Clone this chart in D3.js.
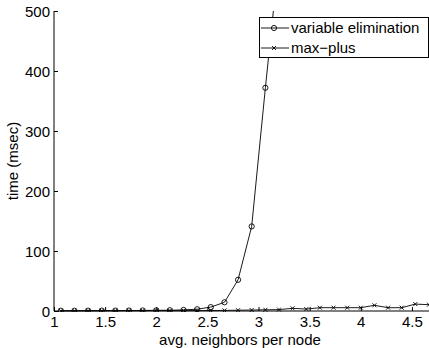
<!DOCTYPE html>
<html>
<head>
<meta charset="utf-8">
<script src="https://cdn.jsdelivr.net/npm/d3@7"></script>
<style>
  body { margin: 0; background: #fff; }
  text { font-family: "Liberation Sans", Arial, sans-serif; fill: #000; }
</style>
</head>
<body>
<div class="chart"></div>
<script>
//Width and height
var width = 429;
var height = 348;
var margin = {left: 54, right: 429, top: 11, bottom: 311};

// Chart data
var veNeighbors = [1.067, 1.2, 1.333, 1.467, 1.6, 1.733, 1.867, 2.0, 2.133, 2.267, 2.4,
                   2.533, 2.667, 2.8, 2.933, 3.067, 3.2];
var veTime = [0.5, 0.5, 0.6, 0.6, 0.7, 0.8, 0.9, 1.1, 1.3, 1.8, 3,
              6.5, 14.5, 52, 141, 372, 590];

var mpNeighbors = [1.067, 1.2, 1.333, 1.467, 1.6, 1.733, 1.867, 2.0, 2.133, 2.267, 2.4,
                   2.533, 2.667, 2.8, 2.933, 3.067, 3.2, 3.333, 3.467, 3.6, 3.733, 3.867,
                   4.0, 4.133, 4.267, 4.4, 4.533, 4.667];
var mpTime = [0.2, 0.2, 0.3, 0.3, 0.3, 0.4, 0.4, 0.5, 0.5, 0.6, 0.7,
              0.8, 1.0, 1.3, 1.6, 2.0, 2.3, 4.5, 3.2, 5.5, 5.5, 5.5,
              5.5, 9.5, 5.5, 5.5, 11.5, 10.5];

var xTicks = [1, 1.5, 2, 2.5, 3, 3.5, 4, 4.5];
var yTicks = [0, 100, 200, 300, 400, 500];
var seriesNames = ['variable elimination', 'max\u2212plus'];

// Setting up scalers
var xScale = d3.scaleLinear()
               .domain([1, 4.667])
               .range([margin.left, margin.right]);

var yScale = d3.scaleLinear()
               .domain([0, 500])
               .range([margin.bottom, margin.top]);

//Create SVG element
var svg = d3.select('.chart')
            .append('svg')
            .attr('width', width)
            .attr('height', height);

svg.append('clipPath')
   .attr('id', 'plot-clip')
   .append('rect')
   .attr('x', margin.left)
   .attr('y', margin.top)
   .attr('width', margin.right - margin.left + 2)
   .attr('height', margin.bottom - margin.top + 1);

// Axes (ticks point inward, like matlab)
var xAxis = d3.axisTop(xScale)
              .tickValues(xTicks)
              .tickSize(4)
              .tickFormat(d3.format('~g'));

var yAxis = d3.axisRight(yScale)
              .tickValues(yTicks)
              .tickSize(4)
              .tickFormat(d3.format('d'));

var gx = svg.append('g')
            .attr('transform', 'translate(0,' + margin.bottom + ')')
            .call(xAxis);
gx.select('.domain').remove();
gx.selectAll('.tick line').attr('stroke', '#000');
gx.selectAll('.tick text')
  .attr('y', 16)
  .attr('dy', 0)
  .style('font-size', '15px');

var gy = svg.append('g')
            .attr('transform', 'translate(' + margin.left + ',0)')
            .call(yAxis);
gy.select('.domain').remove();
gy.selectAll('.tick line').attr('stroke', '#000');
gy.selectAll('.tick text')
  .attr('x', -4)
  .attr('dy', '0.35em')
  .style('text-anchor', 'end')
  .style('font-size', '15px');

// axis lines
svg.append('line')
   .attr('x1', margin.left).attr('x2', margin.right)
   .attr('y1', margin.bottom).attr('y2', margin.bottom)
   .attr('stroke', '#000');
svg.append('line')
   .attr('x1', margin.left).attr('x2', margin.left)
   .attr('y1', margin.top).attr('y2', margin.bottom)
   .attr('stroke', '#000');

//Axis labels
svg.append('text')
   .attr('x', 240)
   .attr('y', 345)
   .style('text-anchor', 'middle')
   .style('font-size', '15px')
   .text('avg. neighbors per node');

svg.append('text')
   .attr('transform', 'translate(18,' + ((margin.top + margin.bottom) / 2) + ') rotate(-90)')
   .style('text-anchor', 'middle')
   .style('font-size', '15px')
   .text('time (msec)');

// Lines
var line = d3.line()
             .x(function(d) { return xScale(d[0]); })
             .y(function(d) { return yScale(d[1]); });

var plot = svg.append('g').attr('clip-path', 'url(#plot-clip)');

var veData = d3.zip(veNeighbors, veTime);
var mpData = d3.zip(mpNeighbors, mpTime);

plot.append('path')
    .datum(mpData)
    .attr('d', line)
    .attr('fill', 'none')
    .attr('stroke', '#000')
    .attr('stroke-width', 0.9);

plot.append('path')
    .datum(veData)
    .attr('d', line)
    .attr('fill', 'none')
    .attr('stroke', '#000')
    .attr('stroke-width', 0.9);

var crossPath = 'M-2,-2L2,2M-2,2L2,-2';

plot.selectAll('.mp-mark')
    .data(mpData)
    .enter()
    .append('path')
    .attr('class', 'mp-mark')
    .attr('transform', function(d) { return 'translate(' + xScale(d[0]) + ',' + yScale(d[1]) + ')'; })
    .attr('d', crossPath)
    .attr('stroke', '#000')
    .attr('stroke-width', 0.9);

plot.selectAll('.ve-mark')
    .data(veData)
    .enter()
    .append('circle')
    .attr('class', 've-mark')
    .attr('cx', function(d) { return xScale(d[0]); })
    .attr('cy', function(d) { return yScale(d[1]); })
    .attr('r', 2.6)
    .attr('fill', 'none')
    .attr('stroke', '#000')
    .attr('stroke-width', 0.9);

//Legend
var legend = svg.append('g');
legend.append('rect')
      .attr('x', 259.5).attr('y', 17.5)
      .attr('width', 169).attr('height', 40)
      .attr('fill', '#fff')
      .attr('stroke', '#000');

seriesNames.forEach(function(name, i) {
  var ly = 28 + i * 20;
  legend.append('line')
        .attr('x1', 261).attr('x2', 289)
        .attr('y1', ly).attr('y2', ly)
        .attr('stroke', '#000')
        .attr('stroke-width', 0.9);
  if (i === 0) {
    legend.append('circle')
          .attr('cx', 274).attr('cy', ly).attr('r', 2.6)
          .attr('fill', 'none').attr('stroke', '#000').attr('stroke-width', 0.9);
  } else {
    legend.append('path')
          .attr('transform', 'translate(274,' + ly + ')')
          .attr('d', crossPath)
          .attr('stroke', '#000').attr('stroke-width', 0.9);
  }
  legend.append('text')
        .attr('x', 291)
        .attr('y', ly + 5)
        .style('font-size', '15px')
        .text(name);
});
</script>
</body>
</html>
